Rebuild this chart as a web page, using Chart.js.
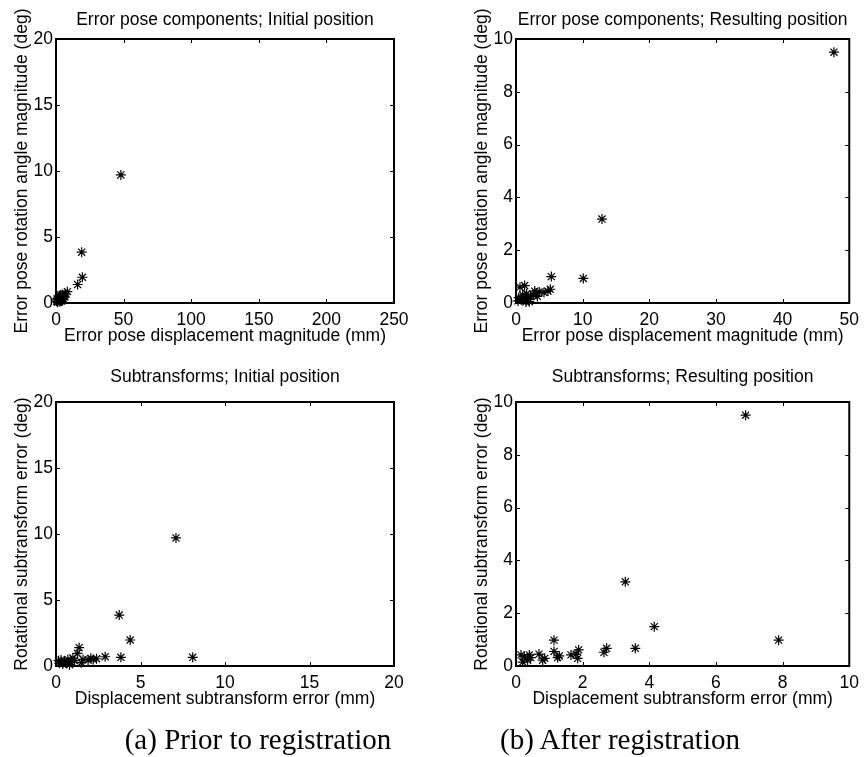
<!DOCTYPE html>
<html>
<head>
<meta charset="utf-8">
<script src="https://cdn.jsdelivr.net/npm/chart.js@4.4.1/dist/chart.umd.min.js"></script>
<style>
html, body { margin: 0; padding: 0; background: #fff; }
#wrap { position: relative; width: 866px; height: 757px; overflow: hidden; }
#wrap canvas { position: absolute; }
.caption { position: absolute; top: 722px; font-family: "Liberation Serif", "Times New Roman", serif; font-size: 29px; line-height: 34px; color: #000; white-space: nowrap; transform: translateX(-50%); }
</style>
</head>
<body>
<div id="wrap">
  <canvas id="poseInit" width="433" height="355" style="left:0;top:0"></canvas>
  <canvas id="poseResult" width="433" height="355" style="left:433px;top:0"></canvas>
  <canvas id="subInit" width="433" height="402" style="left:0;top:355px"></canvas>
  <canvas id="subResult" width="433" height="402" style="left:433px;top:355px"></canvas>
  <div class="caption" style="left:258px">(a) Prior to registration</div>
  <div class="caption" style="left:620px">(b) After registration</div>
</div>
<script>
// 误差位姿分量 - 初始位置 (mm, deg)
const poseInitDisp = [48.0, 19.0, 19.5, 16.0, 8.4, 7.0, 6.5, 6.0, 5.5, 5.0, 4.5, 4.2, 4.0, 3.5, 3.2, 3.0, 2.8, 2.5, 2.0, 1.5, 1.2, 1.0, 0.8, 0.5];
const poseInitRot  = [9.7, 3.85, 1.95, 1.4, 0.86, 0.7, 0.45, 0.6, 0.3, 0.5, 0.65, 0.15, 0.4, 0.2, 0.6, 0.3, 0.1, 0.5, 0.2, 0.35, 0.05, 0.1, 0.3, 0.15];

// 误差位姿分量 - 配准后
const poseResultDisp = [47.7, 12.9, 10.1, 5.3, 5.15, 4.8, 1.3, 0.6, 1.5, 2.2, 3.0, 3.5, 1.0, 0.4, 0.8, 1.8, 2.6, 3.2, 2.0, 1.2, 0.3, 4.2, 2.8, 1.6];
const poseResultRot  = [9.5, 3.18, 0.93, 1.0, 0.52, 0.45, 0.66, 0.6, 0.04, 0.24, 0.36, 0.42, 0.3, 0.2, 0.12, 0.15, 0.3, 0.25, 0.05, 0.2, 0.08, 0.4, 0.45, 0.35];

// 子变换误差 - 初始位置
const subInitDisp = [7.1, 3.74, 4.39, 1.37, 3.84, 8.09, 2.91, 2.06, 1.27, 2.2, 1.9, 1.5, 1.1, 0.9, 0.7, 0.5, 0.3, 0.2, 0.4, 0.6, 1.0, 1.6, 2.4, 0.15, 0.8];
const subInitRot  = [9.7, 3.86, 1.97, 1.39, 0.66, 0.66, 0.7, 0.58, 0.95, 0.5, 0.45, 0.25, 0.4, 0.3, 0.5, 0.35, 0.45, 0.2, 0.15, 0.25, 0.6, 0.5, 0.55, 0.4, 0.1];

// 子变换误差 - 配准后
const subResultDisp = [6.89, 3.28, 4.15, 7.88, 3.58, 2.72, 2.64, 1.14, 1.14, 1.88, 1.85, 1.8, 1.65, 1.3, 1.25, 0.86, 0.8, 0.69, 0.44, 0.35, 0.25, 0.2, 0.4, 0.15];
const subResultRot  = [9.5, 3.19, 1.49, 0.98, 0.67, 0.67, 0.52, 0.98, 0.55, 0.61, 0.29, 0.45, 0.42, 0.38, 0.32, 0.29, 0.22, 0.45, 0.32, 0.22, 0.35, 0.15, 0.42, 0.42];

const FONT = { family: '"Liberation Sans", Arial, sans-serif', size: 17.5 };
const TICK = 4;

// 画坐标框和向内的刻度 (MATLAB 风格)
const framePlugin = {
    id: 'frame',
    afterDatasetsDraw(chart) {
        const { ctx, chartArea: a, scales: { x, y } } = chart;
        ctx.save();
        ctx.strokeStyle = '#000';
        ctx.lineWidth = 1;
        ctx.beginPath();
        x.ticks.forEach(t => {
            const px = Math.round(x.getPixelForValue(t.value)) + 0.5;
            ctx.moveTo(px, a.bottom); ctx.lineTo(px, a.bottom - TICK);
            ctx.moveTo(px, a.top); ctx.lineTo(px, a.top + TICK);
        });
        y.ticks.forEach(t => {
            const py = Math.round(y.getPixelForValue(t.value)) + 0.5;
            ctx.moveTo(a.left, py); ctx.lineTo(a.left + TICK, py);
            ctx.moveTo(a.right, py); ctx.lineTo(a.right - TICK, py);
        });
        ctx.stroke();
        ctx.lineWidth = 2;
        ctx.strokeRect(a.left, a.top, a.right - a.left, a.bottom - a.top);
        ctx.restore();
    }
};

function makePanel(id, xs, ys, o) {
    const ctx = document.getElementById(id).getContext('2d');
    return new Chart(ctx, {
        type: 'scatter',
        data: {
            datasets: [{
                data: xs.map((v, i) => ({ x: v, y: ys[i] })),
                pointStyle: 'star',
                pointRadius: 5,
                borderColor: '#000',
                backgroundColor: '#000',
                borderWidth: 1.2,
                clip: false
            }]
        },
        options: {
            responsive: false,
            animation: false,
            events: [],
            layout: { padding: { left: 0, top: 0, right: o.padRight, bottom: o.padBottom } },
            plugins: { legend: { display: false }, tooltip: { enabled: false } },
            scales: {
                x: {
                    type: 'linear', position: 'bottom', min: 0, max: o.xMax,
                    ticks: { stepSize: o.xStep, color: '#000', font: FONT, padding: 7, maxRotation: 0 },
                    grid: { display: false, drawTicks: false },
                    border: { display: false },
                    title: { display: true, text: o.xLabel, color: '#000', font: FONT, padding: { top: 0, bottom: o.xTitlePad } },
                    afterFit: s => { s.height = o.xHeight; }
                },
                top: {
                    type: 'linear', position: 'top', min: 0, max: o.xMax,
                    ticks: { display: false },
                    grid: { display: false, drawTicks: false },
                    border: { display: false },
                    title: { display: true, text: o.title, color: '#000', font: FONT, padding: { top: o.titlePad, bottom: 0 } },
                    afterFit: s => { s.height = o.topHeight; }
                },
                y: {
                    type: 'linear', position: 'left', min: 0, max: o.yMax,
                    ticks: { stepSize: o.yStep, color: '#000', font: FONT, padding: 3 },
                    grid: { display: false, drawTicks: false },
                    border: { display: false },
                    title: { display: true, text: o.yLabel, color: '#000', font: FONT, padding: { top: o.yTitlePad, bottom: 0 } },
                    afterFit: s => { s.width = o.yWidth; }
                }
            }
        },
        plugins: [framePlugin]
    });
}

const topRow = { xHeight: 52, padBottom: 0, xTitlePad: 8, topHeight: 39, titlePad: 10 };
const botRow = { xHeight: 50, padBottom: 41, xTitlePad: 6, topHeight: 47, titlePad: 12 };

makePanel('poseInit', poseInitDisp, poseInitRot, Object.assign({
    xMax: 250, xStep: 50, yMax: 20, yStep: 5, yWidth: 56, padRight: 39, yTitlePad: 12,
    title: 'Error pose components; Initial position',
    xLabel: 'Error pose displacement magnitude (mm)',
    yLabel: 'Error pose rotation angle magnitude (deg)'
}, topRow));

makePanel('poseResult', poseResultDisp, poseResultRot, Object.assign({
    xMax: 50, xStep: 10, yMax: 10, yStep: 2, yWidth: 83, padRight: 13, yTitlePad: 39,
    title: 'Error pose components; Resulting position',
    xLabel: 'Error pose displacement magnitude (mm)',
    yLabel: 'Error pose rotation angle magnitude (deg)'
}, topRow));

makePanel('subInit', subInitDisp, subInitRot, Object.assign({
    xMax: 20, xStep: 5, yMax: 20, yStep: 5, yWidth: 56, padRight: 39, yTitlePad: 12,
    title: 'Subtransforms; Initial position',
    xLabel: 'Displacement subtransform error (mm)',
    yLabel: 'Rotational subtransform error (deg)'
}, botRow));

makePanel('subResult', subResultDisp, subResultRot, Object.assign({
    xMax: 10, xStep: 2, yMax: 10, yStep: 2, yWidth: 83, padRight: 13, yTitlePad: 39,
    title: 'Subtransforms; Resulting position',
    xLabel: 'Displacement subtransform error (mm)',
    yLabel: 'Rotational subtransform error (deg)'
}, botRow));
</script>
</body>
</html>
